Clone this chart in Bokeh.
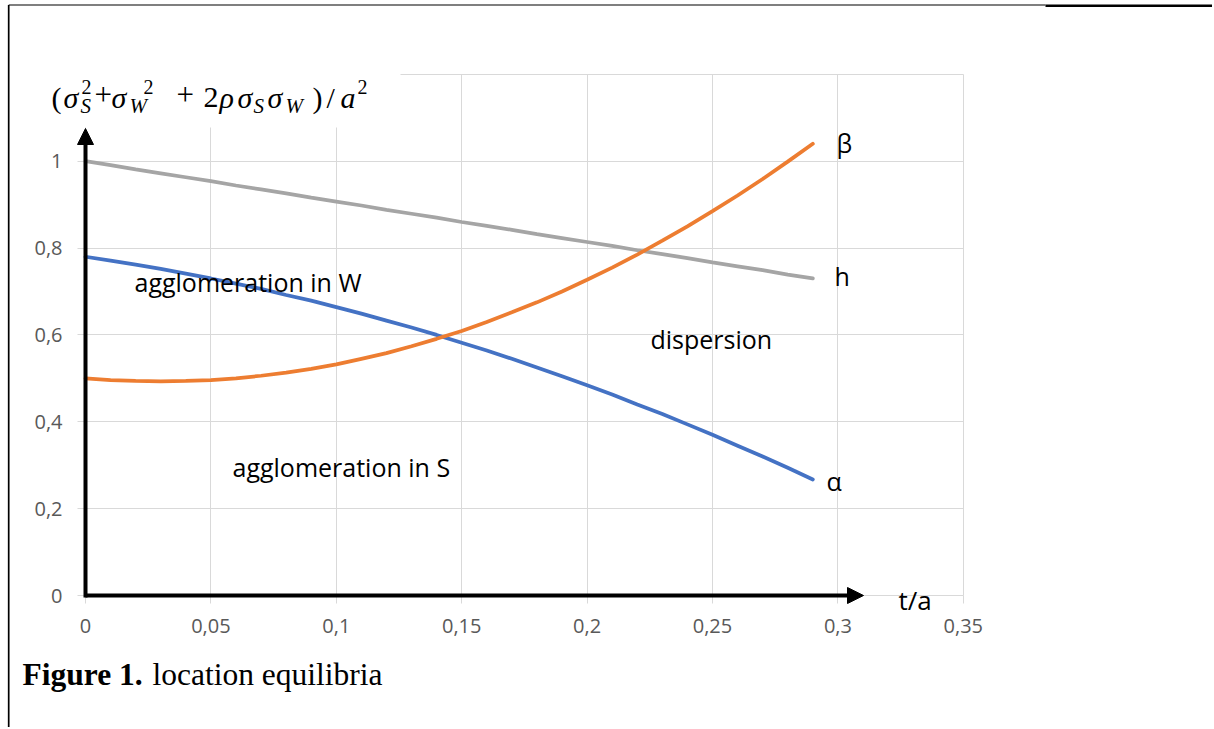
from bokeh.plotting import figure
from bokeh.models import (FixedTicker, Label, Arrow, NormalHead, BoxAnnotation, Range1d,
                          LinearAxis, Grid)
from bokeh.embed import file_html
from bokeh.resources import INLINE

# ---- data ----
t = [0.00, 0.01, 0.02, 0.03, 0.04, 0.05, 0.06, 0.07, 0.08, 0.09,
     0.10, 0.11, 0.12, 0.13, 0.14, 0.15, 0.16, 0.17, 0.18, 0.19,
     0.20, 0.21, 0.22, 0.23, 0.24, 0.25, 0.26, 0.27, 0.28, 0.29]
alpha = [0.780, 0.771, 0.762, 0.752, 0.741, 0.730, 0.718, 0.706, 0.692, 0.679,
         0.664, 0.649, 0.633, 0.617, 0.600, 0.582, 0.564, 0.545, 0.525, 0.505,
         0.484, 0.463, 0.440, 0.418, 0.394, 0.370, 0.345, 0.320, 0.294, 0.267]
beta = [0.500, 0.496, 0.494, 0.493, 0.494, 0.496, 0.500, 0.506, 0.513, 0.522,
        0.532, 0.545, 0.558, 0.574, 0.591, 0.609, 0.630, 0.652, 0.675, 0.700,
        0.727, 0.755, 0.785, 0.817, 0.850, 0.885, 0.921, 0.959, 0.999, 1.040]
h = [1.000, 0.991, 0.981, 0.972, 0.963, 0.954, 0.944, 0.935, 0.926, 0.916,
     0.907, 0.898, 0.888, 0.879, 0.870, 0.860, 0.851, 0.842, 0.832, 0.823,
     0.814, 0.805, 0.795, 0.786, 0.777, 0.767, 0.758, 0.749, 0.739, 0.730]

x_ticks = [0, 0.05, 0.1, 0.15, 0.2, 0.25, 0.3, 0.35]
x_tick_labels = ["0", "0,05", "0,1", "0,15", "0,2", "0,25", "0,3", "0,35"]
y_ticks = [0, 0.2, 0.4, 0.6, 0.8, 1.0]
y_tick_labels = ["0", "0,2", "0,4", "0,6", "0,8", "1"]
y_grid = [0, 0.2, 0.4, 0.6, 0.8, 1.0, 1.2]

BLUE = "#4472C4"
ORANGE = "#ED7D31"
GRAY = "#A5A5A5"
GRID = "#D9D9D9"
TICKTXT = "#595959"

W, H = 1212, 727
# page pixel -> data helpers (frame covers the whole canvas)
X0, XS = 85.0, 2508.0
Y0, YS = 595.0, 434.3


def X(px):
    return (px - X0) / XS


def Y(py):
    return (Y0 - py) / YS


p = figure(width=W, height=H,
           x_range=Range1d(X(0), X(W)), y_range=Range1d(Y(H), Y(0)),
           x_axis_type=None, y_axis_type=None,
           output_backend="svg", toolbar_location=None, min_border=0)
p.outline_line_color = None
p.background_fill_color = "white"
p.border_fill_color = "white"

# grids limited to the chart area
p.add_layout(Grid(dimension=0, ticker=FixedTicker(ticks=x_ticks), bounds=(0, 0.35),
                  cross_bounds=(0, 1.2), grid_line_color=GRID, grid_line_width=1))
p.add_layout(Grid(dimension=1, ticker=FixedTicker(ticks=y_grid), bounds=(0, 1.2),
                  cross_bounds=(0, 0.35), grid_line_color=GRID, grid_line_width=1))

# axes placed at the data origin
xaxis = LinearAxis(fixed_location=0, bounds=(0, 0.35), ticker=FixedTicker(ticks=x_ticks),
                   major_label_overrides={k: v for k, v in zip(x_ticks, x_tick_labels)})
yaxis = LinearAxis(fixed_location=0, bounds=(0, 1.0), ticker=FixedTicker(ticks=y_ticks),
                   major_label_overrides={k: v for k, v in zip(y_ticks, y_tick_labels)})
for ax in (xaxis, yaxis):
    ax.axis_line_color = None
    ax.major_tick_in = 0
    ax.major_tick_out = 8
    ax.major_tick_line_color = GRID
    ax.minor_tick_line_color = None
    ax.major_label_text_font = "Open Sans"
    ax.major_label_text_font_size = "20px"
    ax.major_label_text_color = TICKTXT
xaxis.major_label_standoff = 15
yaxis.major_label_standoff = 15
p.add_layout(xaxis, "below")
p.add_layout(yaxis, "left")

# series
p.line(t, h, line_color=GRAY, line_width=3.75, line_cap="round")
p.line(t, alpha, line_color=BLUE, line_width=3.75, line_cap="round")
p.line(t, beta, line_color=ORANGE, line_width=3.75, line_cap="round")

# page frame lines (document border)
p.segment(x0=[X(8.2), X(8.2), X(1045)], y0=[Y(4.5), Y(4.5), Y(5.3)],
          x1=[X(8.2), X(1045), X(W)], y1=[Y(H), Y(4.5), Y(5.3)],
          line_color="black", line_width=[1.7, 1.2, 2.5])

# white background box of the formula
p.add_layout(BoxAnnotation(left=X(40), right=X(400), bottom=Y(127), top=Y(60),
                           fill_color="white", fill_alpha=1.0, line_color=None))

# axis arrows
p.add_layout(Arrow(x_start=0, y_start=-2 / YS, x_end=0, y_end=Y(128),
                   line_width=4, line_color="black",
                   end=NormalHead(size=16, fill_color="black", line_color="black")))
p.add_layout(Arrow(x_start=0, y_start=0, x_end=X(863), y_end=0,
                   line_width=4, line_color="black",
                   end=NormalHead(size=16, fill_color="black", line_color="black")))

BASE_FIX = 0.38  # Label baseline correction (em)


def txt(s, xpx, ypx, size, font="Open Sans", style="normal", color="black", align="left"):
    ypx = ypx - BASE_FIX * size
    p.add_layout(Label(x=X(xpx), y=Y(ypx), text=s, text_font=font,
                       text_font_size=f"{size}px", text_font_style=style,
                       text_color=color, text_align=align, text_baseline="alphabetic"))


# region labels
txt("agglomeration in W", 134, 291, 25)
txt("dispersion", 650, 348, 25)
txt("agglomeration in S", 232, 476, 25)
txt("β", 836, 152, 25)
txt("h", 834, 285, 25)
txt("α", 826, 490, 25)
txt("t/a", 898, 609, 26)

# y-axis formula  (σ_S²+σ_W² + 2ρσ_Sσ_W)/a²
SER = "Liberation Serif"
M, SP, SB = 30, 20, 21
base, sup, sub = 108, 94, 113
txt("(", 51, base, M, SER)
txt("σ", 63, base, M, SER, "italic")
txt("2", 81, sup, SP, SER)
txt("S", 80, sub, SB, SER, "italic")
txt("+", 94, 106, 31, SER)
txt("σ", 111, base, M, SER, "italic")
txt("2", 143, sup, SP, SER)
txt("W", 129, sub, SB, SER, "italic")
txt("+", 176, 106, 31, SER)
txt("2", 203, base, M, SER)
txt("ρ", 219, base, M, SER, "italic")
txt("σ", 237, base, M, SER, "italic")
txt("S", 253, sub, SB, SER, "italic")
txt("σ", 267, base, M, SER, "italic")
txt("W", 285, sub, SB, SER, "italic")
txt(")", 312, base, M, SER)
txt("/", 326, base, M, SER)
txt("a", 340, base, M, SER, "italic")
txt("2", 357, sup, SP, SER)

# caption
txt("Figure 1.", 22, 686, 31.5, SER, "bold")
txt("location equilibria", 152, 686, 31.5, SER)

open("out.html", "w").write(file_html(p, INLINE))
